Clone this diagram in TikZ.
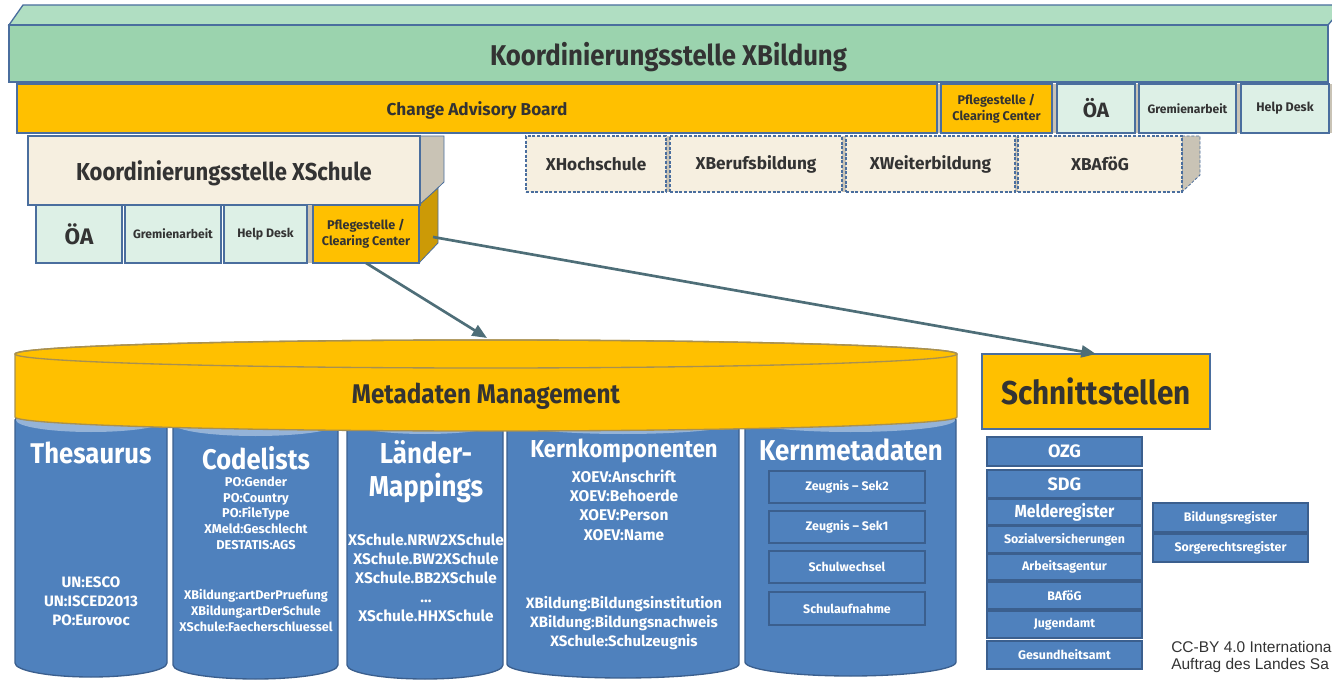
\documentclass[tikz,border=0pt]{standalone}
\usepackage{fontspec}
\setmainfont{Fira Sans}
\newfontfamily\fN{Fira Sans}
\newfontfamily\fC{Fira Sans}[FakeStretch=0.9]
\newfontfamily\arialf{Liberation Sans}
\usetikzlibrary{arrows.meta,calc}
\definecolor{greenfront}{HTML}{9BD3AE}
\definecolor{greentop}{HTML}{B0DEC2}
\definecolor{orng}{HTML}{FFC000}
\definecolor{orngside}{HTML}{CC9A06}
\definecolor{lgreen}{HTML}{DDF0E6}
\definecolor{cream}{HTML}{F6EFE0}
\definecolor{sidegray}{HTML}{C9C3B5}
\definecolor{bordc}{HTML}{4A6E9E}
\definecolor{txtd}{HTML}{333333}
\definecolor{cylblue}{HTML}{4F81BD}
\definecolor{cylbord}{HTML}{3B5F8E}
\definecolor{cyltop}{HTML}{95B3D7}
\definecolor{bandbord}{HTML}{A89050}
\definecolor{arrc}{HTML}{4E6E78}
\newcommand\fpx[2]{\fontsize{\fpeval{0.75*#1}pt}{\fpeval{0.75*#2}pt}\selectfont}
\newcommand\bx[7]{\node[#6,minimum width=\fpeval{(#4-#2)*0.75}pt,minimum height=\fpeval{(#5-#3)*0.75}pt] (#1) at ({(#2+#4)/2},{(#3+#5)/2}) {#7};}
\newcommand\cyl[5]{%
  \filldraw[cylblue,draw=cylbord,line width=1pt] (#1,#3) -- (#1,#4)
    arc[start angle=180,end angle=0,x radius={(#2-#1)/2},y radius=14] -- (#2,#3)
    arc[start angle=0,end angle=-180,x radius={(#2-#1)/2},y radius=#5] -- cycle;
  \fill[cyltop] ({(#1+#2)/2},#3) ellipse[x radius={(#2-#1)/2-1},y radius=#5];}
\tikzset{
  base/.style={inner sep=0pt,outer sep=0pt,align=center,line width=1.1pt},
  gbox/.style={base,fill=greenfront,draw=bordc,text=txtd},
  obox/.style={base,fill=orng,draw=bordc,text=txtd},
  lbox/.style={base,fill=lgreen,draw=bordc,text=txtd},
  cbox/.style={base,fill=cream,draw=bordc,text=txtd},
  dbox/.style={base,fill=cream,draw=bordc,text=txtd,dash pattern=on 2.2pt off 1.3pt,font=\fN\bfseries\fpx{17.2}{20}},
  bbox/.style={base,fill=cylblue,draw=cylbord,text=white},
  wtxt/.style={inner sep=0pt,align=center,text=white},
  sm/.style={font=\fN\bfseries\fpx{12.4}{15}},
  nodepth/.style={text depth=0pt},
  arr/.style={draw=arrc,line width=2pt,-{Triangle[length=11pt,width=9pt]}}
}
\begin{document}
\begin{tikzpicture}[x=0.75pt,y=-0.75pt]
\useasboundingbox (0,0) rectangle (1332,681);
% top green bar
\filldraw[fill=greentop,draw=bordc,line width=1pt] (9,25) -- (23,5) -- (1345,5) -- (1328,25) -- cycle;
\bx{kxb}{9}{25}{1328}{82}{gbox,nodepth,font=\fC\bfseries\fpx{28.6}{32}}{Koordinierungsstelle XBildung}
% first row
\fill[sidegray] (17,84) rectangle (1332,133);
\bx{cab}{17}{84}{937}{133}{obox,nodepth,font=\fN\bfseries\fpx{17.2}{20}}{Change Advisory Board}
\bx{pfl1}{941}{84}{1052}{133}{obox,font=\fN\bfseries\fpx{12.6}{16}}{Pflegestelle /\\Clearing Center}
\bx{oa1}{1057}{84}{1135}{133}{lbox,font=\fN\bfseries\fpx{20.7}{24}}{ÖA}
\bx{grem1}{1139}{84}{1236}{133}{lbox,font=\fN\bfseries\fpx{12.1}{15}}{Gremienarbeit}
\bx{help1}{1241}{84}{1329}{133}{lbox,font=\fN\bfseries\fpx{12.5}{15}}{Help Desk}
% XSchule block
\fill[sidegray,draw=bordc,line width=0.6pt] (420,136) -- (444,136) -- (444,182) -- (420,205) -- cycle;
\fill[orngside,draw=bordc,line width=0.6pt] (419,205) -- (438,188) -- (438,243) -- (419,263) -- cycle;
\bx{kxs}{28}{136}{420}{205}{cbox,nodepth,font=\fC\bfseries\fpx{24.5}{28}}{Koordinierungsstelle XSchule}
\fill[sidegray] (305,205) rectangle (314,263);
\bx{oa2}{36}{205}{122}{263}{lbox,font=\fN\bfseries\fpx{22.5}{26}}{ÖA}
\bx{grem2}{125}{205}{221}{263}{lbox,font=\fN\bfseries\fpx{12.1}{15}}{Gremienarbeit}
\bx{help2}{224}{205}{307}{263}{lbox,font=\fN\bfseries\fpx{12.3}{15}}{Help Desk}
\bx{pfl2}{313}{205}{419}{263}{obox,font=\fN\bfseries\fpx{12.6}{16}}{Pflegestelle /\\Clearing Center}
% other X-standards
\fill[sidegray] (526,136) rectangle (1182,192);
\fill[sidegray,draw=bordc,line width=0.6pt,dash pattern=on 2.2pt off 1.3pt] (1182,136) -- (1200,136) -- (1200,175) -- (1182,192) -- cycle;
\bx{xh}{526}{136}{666}{192}{dbox}{XHochschule}
\bx{xbe}{670}{136}{842}{192}{dbox}{XBerufsbildung}
\bx{xw}{846}{136}{1015}{192}{dbox}{XWeiterbildung}
\bx{xba}{1018}{136}{1182}{192}{dbox}{XBAföG}
% cylinders
\cyl{15}{167}{420}{663}{12}
\cyl{173}{338}{424}{665}{12}
\cyl{347}{503}{422}{665}{12}
\cyl{507}{739}{422}{664}{12}
\cyl{745}{956}{420}{662}{12}
% metadata band
\filldraw[fill=orng,draw=bandbord,line width=1pt] (15,354) -- (15,417)
  arc[start angle=180,end angle=0,x radius=471,y radius=14] -- (957,354)
  arc[start angle=0,end angle=-180,x radius=471,y radius=14] -- cycle;
\draw[bandbord,line width=1pt] (486,354) ellipse[x radius=471,y radius=14];
\node[inner sep=0pt,text=txtd,nodepth,font=\fC\bfseries\fpx{27}{30}] (meta) at (486,393) {Metadaten Management};
\coordinate (metatop) at (487,338);
% cylinder texts
\node[wtxt,font=\fC\bfseries\fpx{28.5}{32}] (thes) at (91,453) {Thesaurus};
\node[wtxt,font=\fN\bfseries\fpx{15.1}{19}] (thesl) at (91,601) {UN:ESCO\\UN:ISCED2013\\PO:Eurovoc};
\node[wtxt,font=\fC\bfseries\fpx{28.4}{32}] (code) at (256,458) {Codelists};
\node[wtxt,font=\fN\bfseries\fpx{12.8}{15.75}] (codel1) at (256,513) {PO:Gender\\PO:Country\\PO:FileType\\XMeld:Geschlecht\\DESTATIS:AGS};
\node[wtxt,font=\fN\bfseries\fpx{12.6}{16}] (codel2) at (256,610) {XBildung:artDerPruefung\\XBildung:artDerSchule\\XSchule:Faecherschluessel};
\node[wtxt,font=\fC\bfseries\fpx{28.8}{33}] (laend) at (426,472) {Länder-\\Mappings};
\node[wtxt,font=\fN\bfseries\fpx{15.4}{19}] (laendl) at (426,578) {XSchule.NRW2XSchule\\XSchule.BW2XSchule\\XSchule.BB2XSchule\\...\\XSchule.HHXSchule};
\node[wtxt,font=\fC\bfseries\fpx{24.5}{28}] (kern) at (624,451) {Kernkomponenten};
\node[wtxt,font=\fN\bfseries\fpx{15.5}{19.3}] (kernl1) at (624,505) {XOEV:Anschrift\\XOEV:Behoerde\\XOEV:Person\\XOEV:Name};
\node[wtxt,font=\fN\bfseries\fpx{15}{19}] (kernl2) at (624,623) {XBildung:Bildungsinstitution\\XBildung:Bildungsnachweis\\XSchule:Schulzeugnis};
\node[wtxt,font=\fC\bfseries\fpx{28.7}{32}] (kmd) at (851,450) {Kernmetadaten};
\bx{sek2}{769}{471}{925}{503}{bbox,sm}{Zeugnis – Sek2}
\bx{sek1}{769}{511}{925}{543}{bbox,sm}{Zeugnis – Sek1}
\bx{swe}{769}{551}{925}{583}{bbox,sm}{Schulwechsel}
\bx{sauf}{769}{592}{925}{625}{bbox,sm}{Schulaufnahme}
% Schnittstellen
\bx{schn}{982}{354}{1210}{429}{obox,font=\fC\bfseries\fpx{33}{36}}{Schnittstellen}
\bx{ozg}{987}{437}{1142}{466}{bbox,font=\fN\bfseries\fpx{18}{21}}{OZG}
\bx{sdg}{987}{470}{1142}{498}{bbox,font=\fN\bfseries\fpx{18}{21}}{SDG}
\bx{mel}{987}{499}{1142}{525}{bbox,font=\fC\bfseries\fpx{17.5}{20}}{Melderegister}
\bx{soz}{987}{526}{1142}{553}{bbox,sm}{Sozialversicherungen}
\bx{arb}{987}{554}{1142}{580}{bbox,sm}{Arbeitsagentur}
\bx{baf}{987}{582}{1142}{609}{bbox,sm}{BAföG}
\bx{jug}{987}{611}{1142}{638}{bbox,sm}{Jugendamt}
\bx{ges}{987}{641}{1142}{669}{bbox,sm}{Gesundheitsamt}
\bx{bil}{1153}{503}{1308}{532}{bbox,sm}{Bildungsregister}
\bx{sor}{1153}{534}{1308}{562}{bbox,sm}{Sorgerechtsregister}
% license text
\node[anchor=north west,inner sep=0pt,align=left,text=txtd,font=\arialf\fpx{15.5}{16.5}] (lic) at (1171,641) {CC-BY 4.0 Internationa\\Auftrag des Landes Sa};
% arrows
\draw[arr] (pfl2.south) -- (metatop);
\draw[arr] ($(pfl2.east)+(14,3)$) -- (schn.north);
\end{tikzpicture}
\end{document}
